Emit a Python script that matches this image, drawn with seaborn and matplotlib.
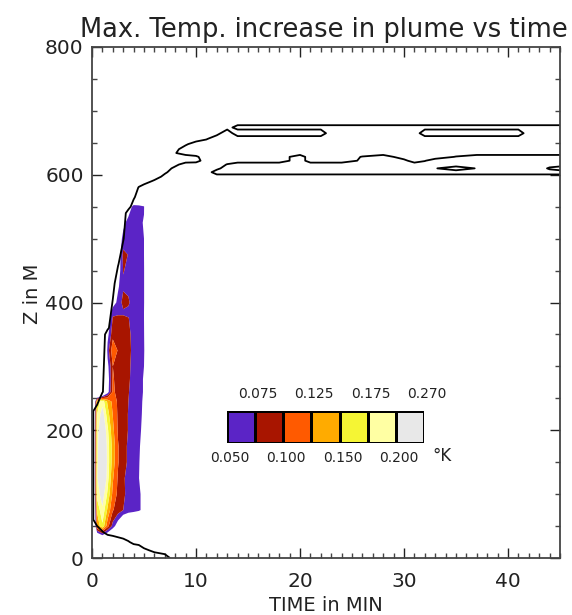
import numpy as np
import matplotlib
matplotlib.use("Agg")
import matplotlib.pyplot as plt
import seaborn as sns
from matplotlib.colors import ListedColormap, BoundaryNorm
from matplotlib.ticker import MultipleLocator, FixedLocator

sns.set_theme(style="white")
plt.rcParams['font.family'] = ['DejaVu Sans']

# ---------------- data ----------------
title = "Max. Temp. increase in plume vs time"
x_label = "TIME in MIN"
y_label = "Z in M"
unit_label = "\u00b0K"

levels = [0.050, 0.075, 0.100, 0.125, 0.150, 0.175, 0.200, 0.270]
level_labels = ["0.050", "0.075", "0.100", "0.125", "0.150", "0.175", "0.200", "0.270"]
band_colors = ["#5b24c6", "#a81500", "#ff5a00", "#ffab00", "#f5f534", "#ffffa3", "#e8e8e8"]

# temperature increase field (mK), time columns x height rows
time_min = [0, 0.5, 1, 1.5, 2, 2.5, 3, 3.5, 4, 4.5, 5, 5.5, 6]
height_m = [0, 25, 50, 75, 100, 125, 150, 175, 200, 225, 245, 260, 280, 300,
            325, 350, 375, 385, 400, 425, 450, 475, 500, 525, 550, 575, 600]
temp_mK = [
    [-120, -80, -60, -40, -40, -40, -40, -40, -40, -40, -40, -40, -40],   # 0
    [-120, -60, -40, -40, -40, -40, -40, -40, -40, -40, -40, -40, -40],   # 25
    [-120, 130, 170, 110, 65, 30, -10, -40, -40, -40, -40, -40, -40],     # 50
    [-120, 155, 195, 145, 102, 88, 75, 68, 62, 55, 40, -40, -40],         # 75
    [-120, 185, 215, 170, 118, 94, 78, 70, 63, 55, 40, -40, -40],         # 100
    [-120, 195, 250, 185, 128, 97, 78, 68, 60, 51, 30, -40, -40],         # 125
    [-120, 190, 260, 190, 138, 102, 82, 72, 63, 52, 35, -40, -40],        # 150
    [-120, 188, 255, 188, 140, 102, 82, 72, 63, 53, 40, -40, -40],        # 175
    [-120, 185, 240, 180, 132, 97, 85, 74, 66, 56, 42, -40, -40],         # 200
    [-120, 175, 215, 160, 124, 96, 84, 74, 66, 57, 45, -40, -40],         # 225
    [-120, 160, 190, 145, 118, 95, 84, 75, 66, 58, 46, -40, -40],         # 245
    [-120, -120, -60, 35, 105, 92, 84, 76, 68, 58, 48, -40, -40],         # 260
    [-120, -120, -80, 30, 103, 90, 85, 78, 68, 58, 48, -40, -40],         # 280
    [-120, -120, -80, 40, 100, 92, 86, 78, 70, 60, 50, -40, -40],         # 300
    [-120, -120, -80, 60, 118, 98, 88, 80, 70, 60, 55, -40, -40],         # 325
    [-120, -120, -80, 40, 92, 88, 86, 80, 68, 58, 52, -40, -40],          # 350
    [-120, -120, -100, 20, 77, 78, 78, 76, 65, 58, 50, -40, -40],         # 375
    [-120, -120, -110, 0, 70, 72, 72, 70, 63, 58, 50, -40, -40],          # 385
    [-120, -120, -120, -60, 30, 60, 82, 78, 65, 58, 52, -40, -40],        # 400
    [-120, -120, -120, -80, -20, 45, 72, 70, 64, 58, 52, -40, -40],       # 425
    [-120, -120, -120, -100, -40, 30, 76, 71, 64, 58, 52, -40, -40],      # 450
    [-120, -120, -120, -100, -60, 20, 82, 74, 64, 58, 50, -40, -40],      # 475
    [-120, -120, -120, -120, -80, 20, 60, 65, 62, 58, 50, -40, -40],      # 500
    [-120, -120, -120, -120, -100, -40, 40, 62, 60, 56, 48, -40, -40],    # 525
    [-120, -120, -120, -120, -120, -100, -40, 30, 60, 58, 52, -40, -40],  # 550
    [-120, -120, -120, -120, -120, -120, -120, -60, -40, -40, -40, -40, -40],  # 575
    [-120, -120, -120, -120, -120, -120, -120, -120, -120, -120, -120, -120, -120],  # 600
]

# envelope field (0-9 scale, drawn line at 4.5), rows listed from top to bottom
env_time = [0, 0.5, 1, 1.5, 2, 2.5, 3, 3.5, 4, 4.5, 5, 6, 7, 8, 9, 10, 11, 12, 13, 14,
            16, 18, 20, 21, 22, 23, 24, 26, 28, 30, 31, 32, 33, 35, 37, 38, 40, 41,
            42, 43, 44, 45]
env_height = [800, 700, 684, 674, 665, 656, 648, 640, 634, 628, 622, 616, 610, 604,
              597, 590, 580, 565, 550, 540, 500, 460, 430, 390, 360, 350, 260, 250,
              230, 150, 60, 40, 25, 12, 0]
env_rows = [
    "0" * 42,                                                              # 800
    "0" * 42,                                                              # 700
    "0" * 42,                                                              # 684
    "0" * 18 + "2" + "7" * 23,                                             # 674
    "0" * 17 + "29" + "0" * 6 + "9" * 6 + "0" * 7 + "9" * 4,               # 665
    "0" * 16 + "4" + "9" * 25,                                             # 656
    "0" * 14 + "3" + "9" * 27,                                             # 648
    "0" * 13 + "2" + "9" * 28,                                             # 640
    "0" * 13 + "4" + "9" * 28,                                             # 634
    "0" * 15 + "3" + "9" * 6 + "0" + "9" * 4 + "40" + "9" * 4 + "4" + "0" * 8,  # 628
    "0" * 15 + "1" + "9" * 6 + "0" + "9" * 4 + "3029" + "5" + "0" * 10,    # 622
    "0" * 13 + "2" + "9" * 4 + "4" + "0" * 23,                             # 616
    "0" * 13 + "7" + "9" * 3 + "7" + "0" * 14 + "494" + "0" * 5 + "69",    # 610
    "0" * 12 + "3" + "9" * 4 + "0" * 25,                                   # 604
    "0" * 12 + "7" + "9" * 29,                                             # 597
    "0" * 11 + "6" + "9" * 30,                                             # 590
    "0" * 9 + "5" + "9" * 32,                                              # 580
    "0" * 8 + "3" + "9" * 33,                                              # 565
    "0" * 7 + "1" + "9" * 34,                                              # 550
    "0" * 7 + "9" * 35,                                                    # 540
    "0" * 6 + "4" + "9" * 35,                                              # 500
    "0" * 5 + "4" + "9" * 36,                                              # 460
    "0" * 4 + "2" + "9" * 37,                                              # 430
    "0" * 4 + "6" + "9" * 37,                                              # 390
    "0" * 3 + "3" + "9" * 38,                                              # 360
    "0" * 3 + "9" * 39,                                                    # 350
    "0" * 2 + "4" + "9" * 39,                                              # 260
    "0" * 2 + "9" * 40,                                                    # 250
    "3" + "9" * 41,                                                        # 230
    "3" + "9" * 41,                                                        # 150
    "3" + "9" * 41,                                                        # 60
    "0" * 2 + "467" + "9" * 37,                                            # 40
    "0" * 6 + "2467" + "9" * 32,                                           # 25
    "0" * 10 + "36" + "9" * 30,                                            # 12
    "0" * 13 + "9" * 29,                                                   # 0
]

# ---------------- figure ----------------
W, H = 572, 615
fig = plt.figure(figsize=(W / 100, H / 100), dpi=100)
ax = fig.add_axes([92 / W, 1 - 558 / H, (560 - 92) / W, (558 - 47) / H])

T, Z = np.meshgrid(np.array(time_min), np.array(height_m))
V = np.array(temp_mK, dtype=float) / 1000.0
ax.contourf(T, Z, V, levels=levels, colors=band_colors, antialiased=True)

G = np.array([[int(c) for c in r] for r in env_rows], dtype=float)[::-1]
TE, ZE = np.meshgrid(np.array(env_time), np.array(env_height[::-1]))
ax.contour(TE, ZE, G, levels=[4.5], colors="black", linewidths=1.3)

ax.set_xlim(0, 45)
ax.set_ylim(0, 800)
ax.xaxis.set_major_locator(FixedLocator([0, 10, 20, 30, 40]))
ax.xaxis.set_minor_locator(MultipleLocator(1))
ax.yaxis.set_major_locator(MultipleLocator(200))
ax.yaxis.set_minor_locator(MultipleLocator(50))
ax.tick_params(which="both", direction="in", top=True, right=True,
               bottom=True, left=True, color="#444444", width=1.0)
ax.tick_params(which="major", length=7, labelsize=14.5, colors="#222222")
ax.tick_params(which="minor", length=3.5)
ax.tick_params(axis="x", which="major", pad=10)
ax.tick_params(axis="y", which="major", pad=6)
for s in ax.spines.values():
    s.set_color("#444444")
    s.set_linewidth(1.3)
ax.set_facecolor("white")

fig.text(326 / W, 1 - 611 / H, x_label, ha="center", va="baseline",
         fontsize=14, color="#222222")
fig.text(33 / W, 1 - 294 / H, y_label, ha="center", va="center",
         rotation=90, fontsize=14, color="#222222")
fig.text(324 / W, 1 - 37 / H, title, ha="center", va="baseline",
         fontsize=18.5, color="#222222")

# ---------------- legend bar ----------------
cax = fig.add_axes([227 / W, 1 - 443 / H, 197 / W, 32 / H])
bar = np.array([levels[:-1]])
sns.heatmap(bar, ax=cax, cmap=ListedColormap(band_colors),
            norm=BoundaryNorm(levels, len(band_colors)), cbar=False,
            linewidths=1.0, linecolor="black", xticklabels=False, yticklabels=False)
for i, lab in enumerate(level_labels):
    if i % 2 == 1:
        cax.text(i + 0.1, 1.53, lab, transform=cax.get_xaxis_transform(),
                 ha="center", va="center", fontsize=10, color="#222222")
    else:
        cax.text(i + 0.1, -0.47, lab, transform=cax.get_xaxis_transform(),
                 ha="center", va="center", fontsize=10, color="#222222")
cax.text(7.3, -0.4, unit_label, transform=cax.get_xaxis_transform(),
         ha="left", va="center", fontsize=12, color="#222222")

fig.savefig("out.png", dpi=100, facecolor="white")
